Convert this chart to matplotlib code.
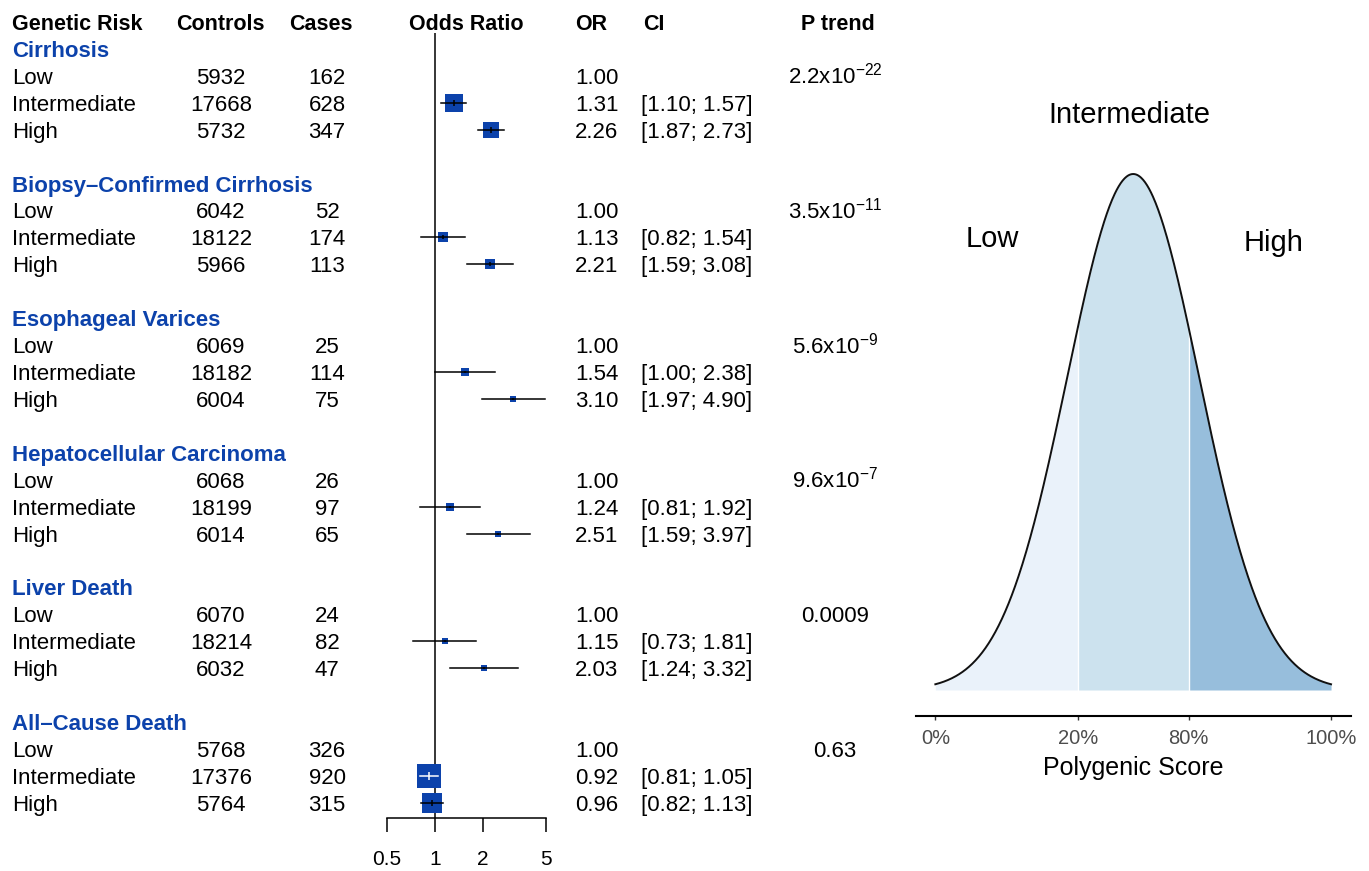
import numpy as np
import matplotlib
matplotlib.use("Agg")
import matplotlib.pyplot as plt
from matplotlib import transforms as mtransforms
from matplotlib import font_manager

# ---------------- data ----------------
outcomes = ["Cirrhosis", "Biopsy\u2013Confirmed Cirrhosis", "Esophageal Varices",
            "Hepatocellular Carcinoma", "Liver Death", "All\u2013Cause Death"]
risk_levels = ["Low", "Intermediate", "High"]
controls = [[5932, 17668, 5732], [6042, 18122, 5966], [6069, 18182, 6004],
            [6068, 18199, 6014], [6070, 18214, 6032], [5768, 17376, 5764]]
cases = [[162, 628, 347], [52, 174, 113], [25, 114, 75],
         [26, 97, 65], [24, 82, 47], [326, 920, 315]]
odds_ratio = [[1.00, 1.31, 2.26], [1.00, 1.13, 2.21], [1.00, 1.54, 3.10],
              [1.00, 1.24, 2.51], [1.00, 1.15, 2.03], [1.00, 0.92, 0.96]]
ci_lower = [[None, 1.10, 1.87], [None, 0.82, 1.59], [None, 1.00, 1.97],
            [None, 0.81, 1.59], [None, 0.73, 1.24], [None, 0.81, 0.82]]
ci_upper = [[None, 1.57, 2.73], [None, 1.54, 3.08], [None, 2.38, 4.90],
            [None, 1.92, 3.97], [None, 1.81, 3.32], [None, 1.05, 1.13]]
p_trend = ["2.2x10$^{-22}$", "3.5x10$^{-11}$", "5.6x10$^{-9}$",
           "9.6x10$^{-7}$", "0.0009", "0.63"]
or_ticks = [0.5, 1, 2, 5]
or_tick_labels = ["0.5", "1", "2", "5"]
score_tick_labels = ["0%", "20%", "80%", "100%"]
score_regions = ["Low", "Intermediate", "High"]

# ---------------- style ----------------
names = {f.name for f in font_manager.fontManager.ttflist}
BODY = "Liberation Sans"
if "Liberation Sans Narrow" in names:
    HEAD, HEAD_SIZE = "Liberation Sans Narrow", 17
else:
    HEAD, HEAD_SIZE = "Liberation Sans", 15.5
plt.rcParams["font.family"] = [BODY, "DejaVu Sans"]
plt.rcParams["mathtext.fontset"] = "custom"
plt.rcParams["mathtext.rm"] = BODY
plt.rcParams["mathtext.default"] = "regular"

BLUE = "#0C42AB"
BODY_SIZE = 16

W, H = 1369, 871
fig = plt.figure(figsize=(W / 100, H / 100), dpi=100)


def fx(px):
    return px / W


def fy(py):
    return 1 - py / H


# ---------------- forest panel ----------------
row_px = 26.92
row0_px = 49.0
ax_top, ax_bot = 33.0, 818.0
ax = fig.add_axes([fx(387), fy(ax_bot), (546 - 387) / W, (ax_bot - ax_top) / H])
ax.set_xscale("log")
ax.set_xlim(0.5, 5)
ax.set_ylim((ax_bot - row0_px) / row_px, (ax_top - row0_px) / row_px)
for s in ["top", "right", "left"]:
    ax.spines[s].set_visible(False)
ax.spines["bottom"].set_linewidth(1.1)
ax.set_yticks([])
ax.set_xticks(or_ticks)
ax.set_xticklabels(or_tick_labels)
ax.xaxis.set_minor_locator(matplotlib.ticker.NullLocator())
ax.tick_params(axis="x", direction="out", length=10, width=1.1, labelsize=15, pad=13)
ax.axvline(1, color="black", lw=1.1, zorder=1)

trans = mtransforms.blended_transform_factory(fig.transFigure, ax.transData)


def cap_off(size):
    return 0.716 * size * 100 / 72 / 2 / row_px


body_off = cap_off(BODY_SIZE)
head_off = cap_off(HEAD_SIZE)

# column headers
hdr_row = -1 + head_off
hkw = dict(transform=trans, family=[HEAD, BODY], weight="bold", size=HEAD_SIZE, va="baseline")
ax.text(fx(12), hdr_row, "Genetic Risk", ha="left", **hkw)
ax.text(fx(220), hdr_row, "Controls", ha="center", **hkw)
ax.text(fx(321), hdr_row, "Cases", ha="center", **hkw)
ax.text(fx(466), hdr_row, "Odds Ratio", ha="center", **hkw)
ax.text(fx(575), hdr_row, "OR", ha="left", **hkw)
ax.text(fx(643), hdr_row, "CI", ha="left", **hkw)
ax.text(fx(838), hdr_row, "P trend", ha="center", **hkw)

bkw = dict(transform=trans, size=BODY_SIZE, va="baseline")
z975 = 1.959964
for g, name in enumerate(outcomes):
    hrow = 5 * g
    ax.text(fx(12), hrow + body_off, name, ha="left", color=BLUE, weight="bold", **bkw)
    ax.text(fx(835), hrow + 1 + body_off, p_trend[g], ha="center", **bkw)
    for i, lvl in enumerate(risk_levels):
        r = hrow + 1 + i
        y = r + body_off
        ax.text(fx(12), y, lvl, ha="left", **bkw)
        ax.text(fx(221), y, f"{controls[g][i]}", ha="center", **bkw)
        ax.text(fx(327), y, f"{cases[g][i]}", ha="center", **bkw)
        ax.text(fx(575), y, f"{odds_ratio[g][i]:.2f}", ha="left", **bkw)
        lo, hi, orv = ci_lower[g][i], ci_upper[g][i], odds_ratio[g][i]
        if lo is None:
            continue
        ax.text(fx(641), y, f"[{lo:.2f}; {hi:.2f}]", ha="left", **bkw)
        se = (np.log(hi) - np.log(lo)) / (2 * z975)
        side_px = 1.58 / se
        ax.plot([orv], [r], marker="s", ms=side_px * 0.72, mew=0, color=BLUE,
                zorder=3, clip_on=False)
        lo_px = ax.transData.transform((lo, r))[0]
        hi_px = ax.transData.transform((hi, r))[0]
        or_px = ax.transData.transform((orv, r))[0]
        inside = (or_px - lo_px) < side_px / 2 and (hi_px - or_px) < side_px / 2
        lc = "white" if inside else "black"
        ax.plot([lo, hi], [r, r], color=lc, lw=1.1, zorder=4, clip_on=False)
        ax.plot([orv], [r], marker="|", ms=0.35 * side_px * 0.72, mew=1.1,
                color=lc, zorder=5, clip_on=False)

# ---------------- density panel ----------------
sd_px = 65.95
center_px = 1133.2
zero_px = 690.0
dens_px = 1293.4
ax2_top = 60.0
ax2 = fig.add_axes([fx(center_px - 3.3 * sd_px), fy(716), 6.6 * sd_px / W, (716 - ax2_top) / H])
ax2.set_xlim(-3.3, 3.3)
ax2.set_ylim(-(716 - zero_px) / dens_px, (zero_px - ax2_top) / dens_px)


def npdf(z):
    return np.exp(-z ** 2 / 2) / np.sqrt(2 * np.pi)


z_lim = 3.0
z_cut = 0.8416  # 20th / 80th percentile of the standard normal
region_colors = ["#EAF2FA", "#CCE2EE", "#97BEDC"]
bounds = [(-z_lim, -z_cut), (-z_cut, z_cut), (z_cut, z_lim)]
for (a, b), c in zip(bounds, region_colors):
    zz = np.linspace(a, b, 300)
    ax2.fill_between(zz, 0, npdf(zz), color=c, lw=0, zorder=1)
for zc in (-z_cut, z_cut):
    ax2.plot([zc, zc], [0, npdf(zc)], color="white", lw=1.0, zorder=2)
zz = np.linspace(-z_lim, z_lim, 601)
ax2.plot(zz, npdf(zz), color="#111111", lw=1.4, zorder=3)

for s in ["top", "right", "left"]:
    ax2.spines[s].set_visible(False)
ax2.spines["bottom"].set_linewidth(1.5)
ax2.set_yticks([])
ax2.set_xticks([-z_lim, -z_cut, z_cut, z_lim])
ax2.set_xticklabels(score_tick_labels)
ax2.tick_params(axis="x", length=3, width=1.0, color="#333333", labelcolor="#4D4D4D",
                labelsize=14.5, pad=6)


def dx(px):
    return (px - center_px) / sd_px


def dy(py):
    return (zero_px - py) / dens_px


ax2.text(dx(1129), dy(122.7), score_regions[1], ha="center", va="baseline", size=21)
ax2.text(dx(992), dy(246.5), score_regions[0], ha="center", va="baseline", size=21)
ax2.text(dx(1274), dy(251), score_regions[2], ha="center", va="baseline", size=21)
fig.text(fx(1133), fy(768), "Polygenic Score", ha="center", va="center", size=18)

fig.savefig("out.png", dpi=100)
